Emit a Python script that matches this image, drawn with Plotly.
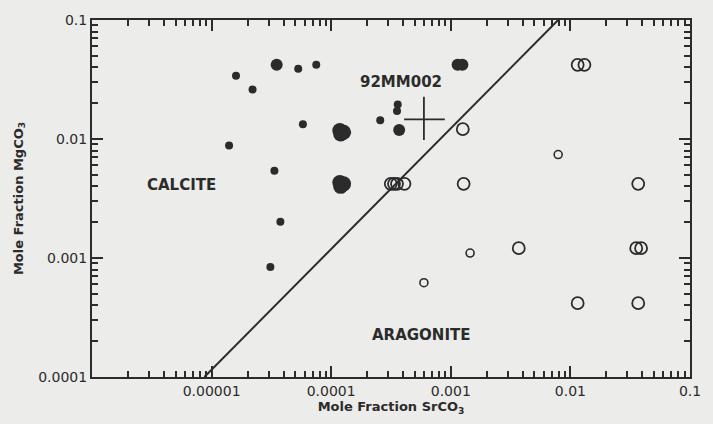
import plotly.graph_objects as go

# ---- data ----
# Calcite field: small filled points
cal_small_x = [1.6e-5, 2.2e-5, 5.3e-5, 7.5e-5, 5.8e-5, 1.4e-5, 3.35e-5, 3.76e-5, 3.1e-5, 2.57e-4, 3.6e-4, 3.55e-4]
cal_small_y = [0.034, 0.026, 0.039, 0.042, 0.0133, 0.0088, 0.0054, 0.00202, 0.00084, 0.0144, 0.0195, 0.0172]
# Calcite field: large filled points
cal_large_x = [3.5e-5, 3.7e-4, 0.00114, 0.00125]
cal_large_y = [0.042, 0.0119, 0.042, 0.042]
# Calcite field: clusters of overlapping filled points
cal_cluster_x = [1.18e-4, 1.27e-4, 1.2e-4, 1.18e-4, 1.27e-4, 1.2e-4]
cal_cluster_y = [0.0118, 0.0114, 0.0110, 0.0043, 0.0042, 0.0040]
# Aragonite field: large open circles
ara_open_x = [0.00126, 0.00128, 0.0115, 0.0131, 0.0369, 0.0037, 0.0355, 0.039, 0.0115, 0.0369,
              3.15e-4, 3.35e-4, 3.55e-4, 4.1e-4]
ara_open_y = [0.0121, 0.0042, 0.042, 0.042, 0.0042, 0.00121, 0.00121, 0.00121, 0.000417, 0.000417,
              0.0042, 0.0042, 0.0042, 0.0042]
# Aragonite field: small open circles
ara_small_x = [0.0079, 5.96e-4, 0.00145]
ara_small_y = [0.0074, 0.00062, 0.0011]
# Sample 92MM002 with uncertainty cross
s92_x = [5.96e-4]
s92_y = [0.0146]
s92_xerr_plus = [2.95e-4]
s92_xerr_minus = [1.89e-4]
s92_yerr_plus = [0.0080]
s92_yerr_minus = [0.0048]
# Calcite / aragonite boundary
bound_x = [8.7e-6, 0.0079]
bound_y = [1e-4, 0.1]

x_tickvals = [1e-5, 1e-4, 1e-3, 1e-2, 1e-1]
x_ticktext = ["0.00001", "0.0001", "0.001", "0.01", "0.1"]
y_tickvals = [1e-4, 1e-3, 1e-2, 1e-1]
y_ticktext = ["0.0001", "0.001", "0.01", "0.1"]
x_decades = [-6, -5, -4, -3, -2]
y_decades = [-4, -3, -2]
minor_digits = [2, 3, 4, 5, 6, 7, 8, 9]

x_minor = [k * 10.0 ** d for d in x_decades for k in minor_digits]
y_minor = [k * 10.0 ** d for d in y_decades for k in minor_digits]

ink = "#2b2b2b"
paper = "#ececea"
font_family = "DejaVu Sans, Arial, sans-serif"

fig = go.Figure()
fig.add_trace(go.Scatter(x=bound_x, y=bound_y, mode="lines",
                         line=dict(color=ink, width=2), hoverinfo="skip"))
fig.add_trace(go.Scatter(x=cal_small_x, y=cal_small_y, mode="markers",
                         marker=dict(color=ink, size=8, line=dict(width=0))))
fig.add_trace(go.Scatter(x=cal_large_x, y=cal_large_y, mode="markers",
                         marker=dict(color=ink, size=12, line=dict(width=0))))
fig.add_trace(go.Scatter(x=cal_cluster_x, y=cal_cluster_y, mode="markers",
                         marker=dict(color=ink, size=15, line=dict(width=0))))
fig.add_trace(go.Scatter(x=ara_open_x, y=ara_open_y, mode="markers",
                         marker=dict(symbol="circle-open", color=ink, size=12, line=dict(width=1.8))))
fig.add_trace(go.Scatter(x=ara_small_x, y=ara_small_y, mode="markers",
                         marker=dict(symbol="circle-open", color=ink, size=8, line=dict(width=1.6))))
fig.add_trace(go.Scatter(x=s92_x, y=s92_y, mode="markers",
                         marker=dict(size=1, color="rgba(0,0,0,0)"),
                         error_x=dict(type="data", symmetric=False, array=s92_xerr_plus,
                                      arrayminus=s92_xerr_minus, color=ink, thickness=1.8, width=0),
                         error_y=dict(type="data", symmetric=False, array=s92_yerr_plus,
                                      arrayminus=s92_yerr_minus, color=ink, thickness=1.8, width=0)))
# invisible traces that carry the minor-tick overlay axes (bottom/left and top/right)
fig.add_trace(go.Scatter(x=bound_x, y=bound_y, xaxis="x2", yaxis="y2", mode="lines",
                         line=dict(width=0), opacity=0, hoverinfo="skip"))
fig.add_trace(go.Scatter(x=bound_x, y=bound_y, xaxis="x3", yaxis="y3", mode="lines",
                         line=dict(width=0), opacity=0, hoverinfo="skip"))

tickfont = dict(family=font_family, size=14, color=ink)
major_common = dict(type="log", showgrid=False, zeroline=False, showline=True,
                    linecolor=ink, linewidth=2, mirror="ticks",
                    ticks="inside", ticklen=11, tickwidth=1.5, tickcolor=ink,
                    tickfont=tickfont)
minor_common = dict(type="log", showgrid=False, zeroline=False, showline=False,
                    ticks="inside", ticklen=6, tickwidth=1.5, tickcolor=ink,
                    showticklabels=False, tickmode="array")

fig.update_layout(
    xaxis=dict(range=[-6, -1], tickmode="array", tickvals=x_tickvals, ticktext=x_ticktext,
               title=dict(text="<b>Mole Fraction SrCO<sub>3</sub></b>", standoff=4,
                          font=dict(family=font_family, size=13, color=ink)),
               **major_common),
    yaxis=dict(range=[-4, -1], tickmode="array", tickvals=y_tickvals, ticktext=y_ticktext,
               title=dict(text="<b>Mole Fraction MgCO<sub>3</sub></b>", standoff=12,
                          font=dict(family=font_family, size=13, color=ink)),
               **major_common),
    xaxis2=dict(range=[-6, -1], overlaying="x", anchor="y2", side="bottom",
                tickvals=x_minor, **minor_common),
    yaxis2=dict(range=[-4, -1], overlaying="y", anchor="x2", side="left",
                tickvals=y_minor, **minor_common),
    xaxis3=dict(range=[-6, -1], overlaying="x", anchor="y3", side="top",
                tickvals=x_minor, **minor_common),
    yaxis3=dict(range=[-4, -1], overlaying="y", anchor="x3", side="right",
                tickvals=y_minor, **minor_common),
)

annots = [("CALCITE", 0.15, 0.537), ("92MM002", 0.517, 0.826), ("ARAGONITE", 0.551, 0.118)]
for txt, ax_, ay_ in annots:
    fig.add_annotation(text="<b>" + txt + "</b>", x=ax_, y=ay_, xref="paper", yref="paper",
                       xanchor="center", yanchor="middle",
                       showarrow=False, font=dict(family=font_family, size=15, color=ink))

fig.update_layout(width=713, height=424, showlegend=False,
                  margin=dict(l=92, r=19, t=15, b=46),
                  paper_bgcolor=paper, plot_bgcolor=paper)

fig.write_html("out.html", config={"displayModeBar": False},
               post_script="document.body.style.margin='0';document.body.style.background='%s';" % paper)
